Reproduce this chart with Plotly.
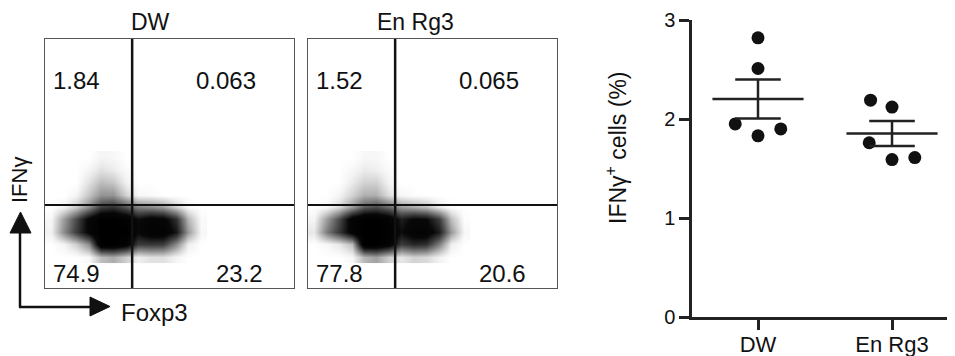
import numpy as np
import plotly.graph_objects as go

W, H = 955, 356
OFF = 8  # page body margin
FW, FH = W - OFF, H - OFF
FONT = "Liberation Sans"

# ---------------- data ----------------
groups = ["DW", "En Rg3"]
dw_values = [2.82, 2.51, 1.95, 1.83, 1.90]
rg3_values = [2.19, 2.12, 1.76, 1.59, 1.61]
# horizontal scatter of dots within each group (category units)
dw_jitter = [0.0, 0.0, -0.17, 0.0, 0.17]
rg3_jitter = [-0.16, 0.0, -0.17, 0.0, 0.17]
y_ticks = [0, 1, 2, 3]

# quadrant percentages: upper-left, upper-right, lower-left, lower-right
dw_quadrants = [1.84, 0.063, 74.9, 23.2]
rg3_quadrants = [1.52, 0.065, 77.8, 20.6]
gate_foxp3 = 35.0
gate_ifng = 33.3

# event density (0..1) on a coarse grid, rows bottom -> top
grid_x = [2.5, 7.5, 12.5, 17.5, 22.5, 27.5, 32.5, 37.5, 42.5, 47.5, 52.5, 57.5, 62.5]
grid_y = [12.5, 17.5, 22.5, 27.5, 32.5, 37.5, 42.5, 47.5, 52.5]
dw_density = [
    [0, 0, 0, 0.03, 0.2, 0.25, 0.15, 0.06, 0.1, 0.1, 0.04, 0, 0],
    [0, 0.04, 0.15, 0.35, 1.0, 1.0, 0.9, 0.6, 0.62, 0.6, 0.35, 0.06, 0],
    [0.05, 0.35, 0.6, 0.85, 1.0, 1.0, 1.0, 0.8, 0.92, 0.92, 0.75, 0.3, 0.03],
    [0.03, 0.3, 0.55, 0.85, 1.0, 1.0, 0.95, 0.78, 0.88, 0.85, 0.65, 0.22, 0.02],
    [0, 0.05, 0.16, 0.35, 0.6, 0.65, 0.52, 0.38, 0.35, 0.3, 0.15, 0.03, 0],
    [0, 0, 0.04, 0.18, 0.32, 0.32, 0.14, 0.03, 0.02, 0, 0, 0, 0],
    [0, 0, 0, 0.1, 0.2, 0.17, 0.05, 0, 0, 0, 0, 0, 0],
    [0, 0, 0, 0.04, 0.1, 0.07, 0.02, 0, 0, 0, 0, 0, 0],
    [0, 0, 0, 0, 0.04, 0.03, 0, 0, 0, 0, 0, 0, 0],
]
rg3_density = [
    [0, 0, 0, 0.03, 0.22, 0.28, 0.15, 0.08, 0.14, 0.12, 0.05, 0, 0],
    [0, 0.03, 0.08, 0.2, 1.0, 1.0, 0.9, 0.6, 0.68, 0.65, 0.38, 0.06, 0],
    [0.08, 0.4, 0.62, 0.88, 1.0, 1.0, 0.95, 0.78, 0.9, 0.9, 0.72, 0.3, 0.03],
    [0.04, 0.3, 0.55, 0.9, 1.0, 1.0, 0.92, 0.72, 0.82, 0.8, 0.6, 0.2, 0.01],
    [0, 0.03, 0.12, 0.3, 0.5, 0.55, 0.45, 0.3, 0.25, 0.2, 0.08, 0.01, 0],
    [0, 0, 0.04, 0.14, 0.24, 0.24, 0.1, 0.03, 0.01, 0, 0, 0, 0],
    [0, 0, 0, 0.07, 0.14, 0.14, 0.04, 0, 0, 0, 0, 0, 0],
    [0, 0, 0, 0.03, 0.07, 0.06, 0.02, 0, 0, 0, 0, 0, 0],
    [0, 0, 0, 0, 0.03, 0.03, 0, 0, 0, 0, 0, 0, 0],
]


def pxx(x):
    return (x - OFF) / FW


def pxy(y):
    return 1 - (y - OFF) / FH


fig = go.Figure()

gray_scale = [[0, "#ffffff"], [0.05, "#f2f2f2"], [0.15, "#cfcfcf"], [0.3, "#9a9a9a"],
              [0.55, "#4a4a4a"], [0.8, "#080808"], [1, "#000000"]]

# ---------------- flow panels ----------------
for i, dens in enumerate([dw_density, rg3_density]):
    ax = "" if i == 0 else "2"
    fig.add_trace(go.Heatmap(
        x=grid_x, y=grid_y, z=dens, zmin=0, zmax=1, zsmooth="best",
        colorscale=gray_scale, showscale=False, hoverinfo="skip",
        xaxis="x" + ax, yaxis="y" + ax))

flow_axis = dict(range=[0, 100], showgrid=False, zeroline=False, showticklabels=False,
                 ticks="", showline=True, mirror=True, linecolor="#555555", linewidth=1,
                 fixedrange=True, automargin=False)
fig.update_layout(
    xaxis=dict(domain=[pxx(45), pxx(294)], anchor="y", **flow_axis),
    yaxis=dict(domain=[pxy(288), pxy(39)], anchor="x", **flow_axis),
    xaxis2=dict(domain=[pxx(308), pxx(557)], anchor="y2", **flow_axis),
    yaxis2=dict(domain=[pxy(288), pxy(39)], anchor="x2", **flow_axis),
)

shapes = []
annotations = []


def label(x, y, text, size, xref="paper", yref="paper", angle=0, xanchor="center"):
    annotations.append(dict(x=x, y=y, xref=xref, yref=yref, text=text, showarrow=False,
                            xanchor=xanchor, yanchor="middle", textangle=angle,
                            font=dict(size=size, color="#111111", family=FONT)))


quad_pos = [(12.8, 83.5), (72.7, 83.5), (12.8, 6), (78, 6)]
for i, quads in enumerate([dw_quadrants, rg3_quadrants]):
    ax = "" if i == 0 else "2"
    shapes.append(dict(type="line", xref="x" + ax, yref="y" + ax, x0=gate_foxp3, x1=gate_foxp3,
                       y0=-1, y1=100, line=dict(color="#111111", width=2.5), layer="above"))
    shapes.append(dict(type="line", xref="x" + ax, yref="y" + ax, x0=0, x1=100,
                       y0=gate_ifng, y1=gate_ifng, line=dict(color="#111111", width=2), layer="above"))
    for (qx, qy), val in zip(quad_pos, quads):
        label(qx, qy, str(val), 24, xref="x" + ax, yref="y" + ax)

label(pxx(150), pxy(22), groups[0], 23)
label(pxx(415), pxy(22), groups[1], 23)


# axis arrows
def path(points):
    return "M " + " L ".join(f"{pxx(x)},{pxy(y)}" for x, y in points) + " Z"


shapes.append(dict(type="line", xref="paper", yref="paper", x0=pxx(20), x1=pxx(20),
                   y0=pxy(307), y1=pxy(230), line=dict(color="#111111", width=2.5)))
shapes.append(dict(type="line", xref="paper", yref="paper", x0=pxx(19), x1=pxx(92),
                   y0=pxy(307), y1=pxy(307), line=dict(color="#111111", width=2.5)))
shapes.append(dict(type="path", xref="paper", yref="paper",
                   path=path([(10, 233), (31, 233), (20.5, 212)]),
                   fillcolor="#111111", line=dict(color="#111111", width=1)))
shapes.append(dict(type="path", xref="paper", yref="paper",
                   path=path([(90, 297), (90, 316), (110, 306.5)]),
                   fillcolor="#111111", line=dict(color="#111111", width=1)))
label(pxx(119), pxy(312), "Foxp3", 24, xanchor="left")
label(pxx(20), pxy(180), "IFNγ", 22, angle=-90)

# ---------------- scatter dot plot ----------------
for gi, (vals, jit) in enumerate([(dw_values, dw_jitter), (rg3_values, rg3_jitter)]):
    vals = np.array(vals)
    mean = vals.mean()
    sem = vals.std(ddof=1) / np.sqrt(len(vals))
    fig.add_trace(go.Scatter(
        x=[gi + j for j in jit], y=vals, mode="markers",
        marker=dict(color="#111111", size=13, symbol="circle", line=dict(width=0)),
        xaxis="x3", yaxis="y3", showlegend=False, hoverinfo="y", cliponaxis=False))
    line_style = dict(color="#222222", width=2.5)
    fig.add_trace(go.Scatter(x=[gi - 0.34, gi + 0.34], y=[mean, mean], mode="lines",
                             line=line_style, xaxis="x3", yaxis="y3", showlegend=False,
                             hoverinfo="skip"))
    fig.add_trace(go.Scatter(x=[gi, gi], y=[mean - sem, mean + sem], mode="lines",
                             line=line_style, xaxis="x3", yaxis="y3", showlegend=False,
                             hoverinfo="skip"))
    for yv in (mean - sem, mean + sem):
        fig.add_trace(go.Scatter(x=[gi - 0.17, gi + 0.17], y=[yv, yv], mode="lines",
                                 line=line_style, xaxis="x3", yaxis="y3", showlegend=False,
                                 hoverinfo="skip"))

fig.update_layout(
    xaxis3=dict(domain=[pxx(692), 1.0], anchor="y3", range=[-0.4925, 1.47],
                tickvals=[0, 1], ticktext=groups, showgrid=False, zeroline=False,
                showline=True, linecolor="#222222", linewidth=2.5, ticks="outside",
                ticklen=10, tickwidth=2.5, tickcolor="#222222", automargin=False,
                ticklabelstandoff=-4,
                tickfont=dict(size=22, color="#111111", family=FONT), fixedrange=True),
    yaxis3=dict(domain=[pxy(317), pxy(20)], anchor="x3", range=[0, 3],
                tickvals=y_ticks, showgrid=False, zeroline=False,
                showline=True, linecolor="#222222", linewidth=2.5, ticks="outside",
                ticklen=10, tickwidth=2.5, tickcolor="#222222", automargin=False,
                tickfont=dict(size=20, color="#111111", family=FONT), fixedrange=True),
)
label(pxx(616), pxy(148), "IFNγ<sup>+</sup> cells (%)", 23, angle=-90)

fig.update_layout(
    template="none",
    width=FW, height=FH, autosize=False,
    margin=dict(l=0, r=0, t=0, b=0, pad=0),
    paper_bgcolor="white", plot_bgcolor="white",
    showlegend=False, shapes=shapes, annotations=annotations,
)

fig.write_html("out.html")
